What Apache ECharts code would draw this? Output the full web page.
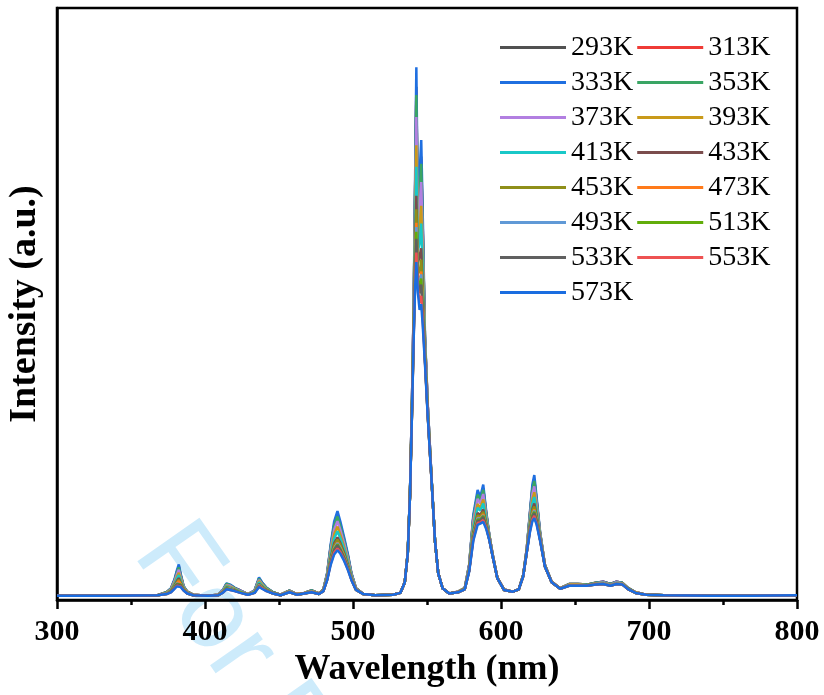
<!DOCTYPE html>
<html>
<head>
<meta charset="utf-8">
<script src="https://cdn.jsdelivr.net/npm/echarts@6/dist/echarts.min.js"></script>
<style>
  html, body { margin: 0; padding: 0; background: #fff; }
  #chart { width: 824px; height: 695px; }
</style>
</head>
<body>
<div id="chart"></div>
<script>
// wavelength grid (nm), denser around the emission peaks
var wavelength = [300,340,368,374,377,379.5,381,382.3,383.5,385.5,388,392,402,409,412,414.5,417,420,424,429,433.5,436.5,438.5,441.5,446,451,457,462,467,472,477,480,482.5,485,487.3,489.5,491.5,494,496.5,499,502,507,515,527,532,535,537,538.5,539.8,541,542,542.8,543.8,545,546.1,547.2,548.6,550.5,553,555.4,557.6,560.5,565,571,575.5,578.5,581.3,584.2,586,588,590,592,594.5,597.5,602,608,612,615,617.4,619.6,621.2,622.5,624,626.4,629.7,634.2,640,646,652,658,664,669,674,678,682,686,691,698,710,740,770,800];

// intensity (a.u.), one array per temperature
var s293 = [7,7,8,13,19,34,47,57,43,23,14,9, 7,9,16,27,25,20,16,10,16,36,29,20, 13,9,16,10,12,16,11,18,44,92,127,143, 127,102,75,44,20,10,8,9,12,30,80,179, 328,494,701,867,646,697,749,622,445,328,209,100, 45,20,11,14,20,59,140,180,170,189,147,111, 75,38,18,14,18,42,86,147,189,204,170,114, 59,31,20,27,27,26,29,31,27,31,29,20, 13,9,8,7,7,8];
var s313 = [7,7,8,13,19,34,47,56,42,23,14,9, 7,9,16,27,25,20,16,10,16,36,29,20, 13,9,16,10,12,16,11,18,44,91,126,142, 126,101,75,44,20,10,8,9,12,30,80,179, 328,493,697,861,643,692,744,618,444,328,209,100, 45,20,11,14,20,59,139,179,169,187,146,111, 75,38,18,14,18,42,86,146,188,202,169,113, 59,31,20,27,27,26,29,31,27,31,29,20, 13,9,8,7,7,8];
var s333 = [7,7,8,13,20,36,50,60,45,24,14,9, 7,9,17,28,26,21,16,10,16,38,30,21, 13,9,16,10,12,16,11,18,45,95,133,150, 132,106,78,45,20,10,8,9,12,30,80,180, 330,500,720,900,660,720,777,640,450,330,210,100, 45,20,11,14,20,60,144,186,174,195,150,112, 75,38,18,14,18,42,87,150,195,211,175,115, 59,31,20,27,27,26,29,31,27,31,29,20, 13,9,8,7,7,8];
var s353 = [7,7,8,13,19,34,46,55,42,23,14,9, 7,9,16,27,25,20,15,10,15,36,28,20, 13,9,16,10,12,16,11,18,43,90,125,141, 124,100,74,43,20,10,8,9,12,30,80,179, 327,491,693,853,640,687,737,614,443,327,209,100, 45,20,11,14,20,58,138,178,168,186,146,111, 75,38,18,14,18,42,86,145,186,201,168,113, 59,31,20,27,27,26,29,30,27,30,29,20, 13,9,8,7,7,8];
var s373 = [7,7,8,12,18,32,43,51,39,22,13,9, 7,9,16,25,24,19,15,10,15,34,27,19, 12,9,15,10,12,15,11,17,42,86,119,133, 118,96,71,42,19,10,8,9,12,30,79,179, 325,485,672,816,624,661,706,594,437,325,209,100, 45,20,11,14,19,57,133,171,163,179,142,109, 74,38,18,14,18,41,85,141,179,192,163,111, 58,31,20,26,26,25,28,30,26,30,28,19, 13,9,8,7,7,8];
var s393 = [7,7,8,12,17,29,39,46,36,21,13,9, 7,9,15,24,22,19,14,10,14,32,26,19, 12,9,15,10,12,15,11,17,40,81,111,124, 110,90,67,40,19,10,8,9,12,30,79,178, 322,476,644,768,604,628,666,568,430,322,208,100, 45,20,11,14,19,55,126,162,156,170,138,108, 74,38,18,14,18,41,84,136,170,182,156,109, 58,31,20,26,26,25,28,29,26,29,28,19, 13,9,8,7,7,8];
var s413 = [7,7,8,11,16,27,36,42,33,20,12,8, 7,8,14,23,21,18,14,9,14,30,24,18, 12,8,14,9,11,14,10,16,39,77,104,116, 104,86,64,39,18,10,8,9,12,30,79,177, 320,469,623,732,589,603,636,548,425,320,207,100, 45,20,11,13,19,54,122,156,151,163,135,107, 73,37,17,14,18,41,83,132,163,174,151,107, 57,30,19,25,25,25,27,29,25,29,27,19, 12,9,8,7,7,8];
var s433 = [7,7,8,11,15,25,32,37,30,19,12,8, 7,8,14,21,20,17,13,9,13,27,23,17, 12,8,14,9,11,14,10,16,37,72,96,106, 96,80,60,37,18,10,8,9,12,30,79,177, 317,460,595,683,568,568,594,521,417,317,207,100, 45,20,11,13,19,52,115,147,144,153,130,105, 73,37,17,14,18,41,82,127,154,163,144,105, 57,30,19,25,25,25,27,28,25,28,27,19, 12,9,8,7,7,8];
var s453 = [7,7,8,11,15,24,30,34,28,18,12,8, 7,8,13,21,19,17,13,9,13,26,22,17, 12,8,14,9,11,14,10,16,36,69,92,102, 93,77,58,36,18,10,8,9,12,30,79,176, 315,456,581,660,558,552,575,509,414,315,206,100, 45,20,11,13,19,51,112,143,141,149,128,105, 73,37,17,14,18,41,82,124,150,158,141,104, 57,30,19,25,25,25,27,28,25,28,27,19, 12,9,8,7,7,8];
var s473 = [7,7,8,11,14,22,28,32,27,18,12,8, 7,8,13,20,19,16,13,9,13,25,21,16, 11,8,14,9,11,14,10,16,35,67,88,97, 89,74,56,35,18,10,8,9,12,30,78,176, 314,452,568,637,548,536,555,496,410,314,206,100, 45,20,11,13,18,50,109,139,138,145,126,104, 73,37,17,14,18,40,81,122,145,153,137,103, 57,30,19,25,25,24,27,28,25,28,27,18, 12,9,8,7,7,8];
var s493 = [7,7,8,11,14,22,28,31,26,17,12,8, 7,8,13,20,19,16,13,9,13,25,21,16, 11,8,14,9,11,14,10,16,35,66,87,96, 88,73,56,35,18,10,8,9,12,30,78,176, 314,451,564,630,545,531,550,492,409,314,206,100, 45,20,11,13,18,50,108,138,137,143,125,104, 73,37,17,14,18,40,81,121,144,151,136,103, 57,30,19,25,25,24,27,28,25,28,27,18, 12,9,8,7,7,8];
var s513 = [7,7,8,10,14,22,27,30,26,17,11,8, 7,8,13,20,18,16,13,9,13,24,21,16, 11,8,13,9,11,13,10,15,35,65,86,94, 86,72,55,35,17,10,8,9,12,30,78,176, 313,449,559,622,542,526,543,488,408,313,206,100, 45,20,11,13,18,50,107,136,136,142,125,104, 72,37,17,14,18,40,81,120,143,149,135,102, 56,30,19,24,24,24,26,27,24,27,26,18, 12,9,8,7,7,8];
var s533 = [7,7,8,10,14,21,26,29,25,17,11,8, 7,8,13,19,18,16,12,9,12,24,20,16, 11,8,13,9,11,13,10,15,34,64,84,92, 84,71,54,34,17,10,8,9,12,30,78,176, 312,447,553,610,537,518,533,482,406,312,206,100, 45,20,11,13,18,49,105,134,134,140,124,103, 72,37,17,14,18,40,81,119,140,147,134,102, 56,30,19,24,24,24,26,27,24,27,26,18, 12,9,8,7,7,8];
var s553 = [7,7,8,10,13,20,24,27,23,16,11,8, 7,8,12,18,17,15,12,9,12,23,20,15, 11,8,13,9,11,13,10,15,34,62,80,87, 81,68,52,34,17,10,8,9,12,30,78,175, 311,443,540,587,527,502,514,469,403,311,205,100, 45,20,11,13,18,49,102,130,131,135,122,103, 72,37,17,14,18,40,80,117,136,142,130,101, 56,30,19,24,24,24,26,27,24,27,26,18, 12,9,8,7,7,8];
var s573 = [7,7,8,10,13,19,23,25,22,16,11,8, 7,8,12,18,17,15,12,9,12,22,19,15, 11,8,13,9,11,13,10,15,33,60,77,84, 78,66,51,33,17,10,8,9,12,30,78,175, 310,440,530,571,520,490,500,460,400,310,205,100, 45,20,11,13,18,48,100,127,129,132,120,102, 72,37,17,14,18,40,80,115,133,138,128,100, 56,30,19,24,24,24,26,27,24,27,26,18, 12,9,8,7,7,8];

var temps = ['293K','313K','333K','353K','373K','393K','413K','433K','453K','473K','493K','513K','533K','553K','573K'];
var values = [s293,s313,s333,s353,s373,s393,s413,s433,s453,s473,s493,s513,s533,s553,s573];
var xTicks = [300, 400, 500, 600, 700, 800];

var colors = ['#515151','#ef3b36','#1f6fe0','#3aa564','#b27fe1','#c99a1a','#19c8c8','#7b4d4d',
              '#8f8f19','#ff7a1a','#6099d6','#62ad0a','#606060','#ee5252','#1a6de0'];

var serif = '"Times New Roman", "Liberation Serif", serif';

var chart = echarts.init(document.getElementById('chart'));

var series = temps.map(function (t, i) {
  return {
    name: t,
    type: 'line',
    symbol: 'none',
    data: wavelength.map(function (w, j) { return [w, values[i][j]]; }),
    lineStyle: { width: 2.5, color: colors[i] },
    itemStyle: { color: colors[i] }
  };
});

var option = {
  animation: false,
  backgroundColor: '#fff',
  graphic: [{
    type: 'text',
    z: -10,
    x: 112,
    y: 568,
    rotation: -0.96,
    style: {
      text: 'For Review Only',
      font: '110px "Liberation Sans", Arial, sans-serif',
      fill: '#cdebfb',
      textAlign: 'left',
      textVerticalAlign: 'bottom'
    }
  }],
  legend: {
    left: 500,
    top: 32,
    width: 290,
    padding: 0,
    icon: 'rect',
    itemWidth: 66,
    itemHeight: 3,
    itemGap: 4,
    textStyle: { fontFamily: serif, fontSize: 28, color: '#000', lineHeight: 31 },
    data: temps
  },
  grid: {
    left: 57, right: 27, top: 8, bottom: 95,
    outerBoundsMode: 'none',
    show: true, borderColor: '#000', borderWidth: 2.5
  },
  xAxis: {
    type: 'value',
    min: xTicks[0],
    max: xTicks[xTicks.length - 1],
    interval: 100,
    name: 'Wavelength (nm)',
    nameLocation: 'middle',
    nameGap: 52,
    nameTextStyle: { fontFamily: serif, fontSize: 36, fontWeight: 'bold', color: '#000' },
    axisLine: { lineStyle: { color: '#000', width: 2.5 } },
    axisTick: { length: 9, lineStyle: { width: 2.5, color: '#000' } },
    minorTick: { show: true, splitNumber: 2, length: 5, lineStyle: { width: 2.5, color: '#000' } },
    splitLine: { show: false },
    axisLabel: { fontFamily: serif, fontSize: 30, fontWeight: 'bold', color: '#000', margin: 17 }
  },
  yAxis: {
    type: 'value',
    min: 0,
    max: 1000,
    name: 'Intensity (a.u.)',
    nameLocation: 'middle',
    nameGap: 13,
    nameTextStyle: { fontFamily: serif, fontSize: 38, fontWeight: 'bold', color: '#000' },
    axisLine: { show: true, lineStyle: { color: '#000', width: 2.5 } },
    axisTick: { show: false },
    axisLabel: { show: false },
    splitLine: { show: false }
  },
  series: series
};

chart.setOption(option);
</script>
</body>
</html>
